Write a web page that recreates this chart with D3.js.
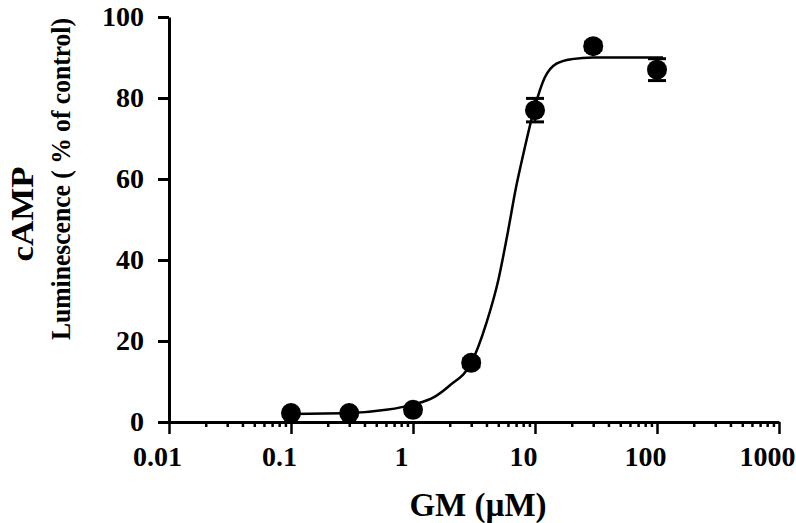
<!DOCTYPE html>
<html>
<head>
<meta charset="utf-8">
<script src="https://cdn.jsdelivr.net/npm/d3@7"></script>
<style>
  body { margin: 0; background: #fff; }
  svg text { font-family: "Liberation Serif", "Times New Roman", serif; font-weight: bold; fill: #000; }
</style>
</head>
<body>
<svg id="drawing_region"></svg>
<script>
// measured points (concentration in uM, % of control, error)
const conc = [0.1, 0.3, 1, 3, 10, 30, 100];
const response = [2.2, 2.2, 3.0, 14.6, 77.0, 92.8, 87.0];
const errors = [0.5, 0.5, 0.8, 1.0, 2.9, 1.0, 2.7];

// fitted curve
const fitX = [0.1, 0.3, 0.6, 1, 1.5, 2, 3, 4, 5, 6, 7, 8, 10, 12, 15, 20, 30, 112];
const fitY = [2.0, 2.2, 3.0, 4.3, 6.2, 9.0, 14.6, 24.5, 35, 47, 58, 66, 78, 85, 88.5, 89.6, 90, 90];

const xTicks = [0.01, 0.1, 1, 10, 100, 1000];
const yTicks = [0, 20, 40, 60, 80, 100];

const config = {
    width: 796,
    height: 523,
    margin: {top: 17, right: 17, bottom: 101, left: 169}
};

const svg = d3.select('#drawing_region')
    .attr('width', config.width)
    .attr('height', config.height);

const innerH = config.height - config.margin.top - config.margin.bottom;

const g = svg.append('g')
    .attr('transform', `translate(${config.margin.left}, ${config.margin.top})`);

const xscale = d3.scaleLog().domain([0.01, 1000]).range([0, 610]);
const yscale = d3.scaleLinear().domain([0, 100]).range([innerH, 0]);

// minor ticks on the log axis
let minor = [];
for (let p = -2; p < 3; p++) {
    for (let m = 2; m <= 9; m++) minor.push(m * Math.pow(10, p));
}

const xMinor = g.append('g')
    .attr('transform', `translate(0, ${innerH})`)
    .call(d3.axisBottom(xscale).tickValues(minor).tickSize(5).tickFormat(''));
xMinor.select('.domain').remove();
xMinor.selectAll('line').attr('stroke-width', 2.5);

const xAxis = g.append('g')
    .attr('transform', `translate(0, ${innerH})`)
    .call(d3.axisBottom(xscale).tickValues(xTicks).tickSize(12).tickSizeOuter(0)
        .tickFormat(d => d < 1 ? String(d) : d3.format('d')(d)));
xAxis.select('.domain').attr('stroke-width', 3);
xAxis.selectAll('line').attr('stroke-width', 2.5);
xAxis.selectAll('text')
    .attr('font-size', 28)
    .attr('x', -12)
    .attr('y', 44)
    .attr('dy', 0);

const yAxis = g.append('g')
    .call(d3.axisLeft(yscale).tickValues(yTicks).tickSize(11).tickSizeOuter(0));
yAxis.select('.domain').attr('stroke-width', 3);
yAxis.selectAll('line').attr('stroke-width', 3);
yAxis.selectAll('text').attr('font-size', 28).attr('x', -25).attr('dy', '0.3em');

// fitted curve
const line = d3.line()
    .x((d, i) => xscale(fitX[i]))
    .y(d => yscale(d))
    .curve(d3.curveMonotoneX);

g.append('path')
    .datum(fitY)
    .attr('d', line)
    .attr('fill', 'none')
    .attr('stroke', '#000')
    .attr('stroke-width', 2.5);

// error bars
const eb = g.selectAll('.err')
    .data(conc)
    .enter()
    .append('g');

eb.append('line')
    .attr('x1', d => xscale(d)).attr('x2', d => xscale(d))
    .attr('y1', (d, i) => yscale(response[i] - errors[i]))
    .attr('y2', (d, i) => yscale(response[i] + errors[i]))
    .attr('stroke', '#000').attr('stroke-width', 2.5);

[-1, 1].forEach(s => {
    eb.append('line')
        .attr('x1', d => xscale(d) - 9).attr('x2', d => xscale(d) + 9)
        .attr('y1', (d, i) => yscale(response[i] + s * errors[i]))
        .attr('y2', (d, i) => yscale(response[i] + s * errors[i]))
        .attr('stroke', '#000').attr('stroke-width', 3);
});

// markers
g.selectAll('circle')
    .data(conc)
    .enter()
    .append('circle')
    .attr('cx', d => xscale(d))
    .attr('cy', (d, i) => yscale(response[i]))
    .attr('r', 10)
    .attr('fill', '#000');

// axis titles
svg.append('text')
    .attr('x', 478).attr('y', 516)
    .attr('text-anchor', 'middle')
    .attr('font-size', 33)
    .text('GM (µM)');

svg.append('text')
    .attr('transform', 'translate(33, 214) rotate(-90)')
    .attr('text-anchor', 'middle')
    .attr('font-size', 31)
    .attr('textLength', 95)
    .attr('lengthAdjust', 'spacingAndGlyphs')
    .text('cAMP');

svg.append('text')
    .attr('transform', 'translate(70, 179) rotate(-90)')
    .attr('text-anchor', 'middle')
    .attr('font-size', 27)
    .attr('textLength', 322)
    .attr('lengthAdjust', 'spacingAndGlyphs')
    .text('Luminescence ( % of control)');
</script>
</body>
</html>
